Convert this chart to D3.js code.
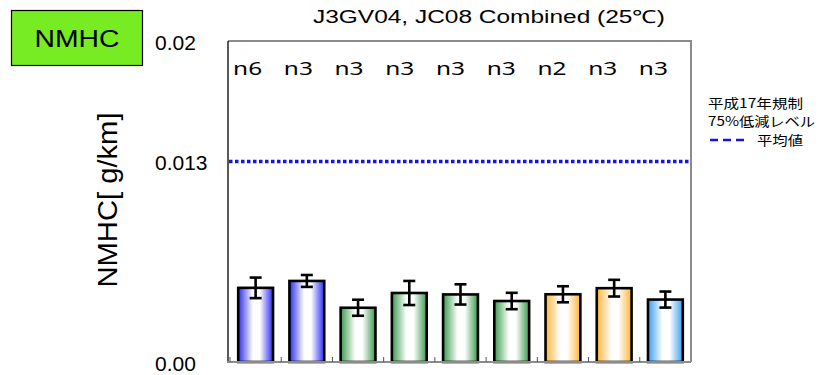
<!DOCTYPE html>
<html>
<head>
<meta charset="utf-8">
<script src="https://cdn.jsdelivr.net/npm/d3@7"></script>
<style>
  body { margin: 0; background: #fff; }
  svg { display: block; }
</style>
</head>
<body>
<svg width="822" height="375"></svg>
<script>
// data
var categories = ["c1", "c2", "c3", "c4", "c5", "c6", "c7", "c8", "c9"];
var nLabels = ["n6", "n3", "n3", "n3", "n3", "n3", "n2", "n3", "n3"];
var means = [0.00462, 0.00505, 0.00338, 0.00430, 0.00421, 0.00380, 0.00422, 0.00460, 0.00389];
var errs = [0.00064, 0.00037, 0.00050, 0.00075, 0.00063, 0.00051, 0.00050, 0.00052, 0.00050];
var groups = ["blue", "blue", "green", "green", "green", "green", "orange", "orange", "sky"];
var limit = 0.0125;
var yTicks = [0, 0.0125, 0.02];
var yTickLabels = ["0.00", "0.013", "0.02"];

var colors = { blue: "#2c2cf5", green: "#3b9a4c", orange: "#ffb437", sky: "#3a9ef0" };

var svg = d3.select("svg");
var pLeft = 228, pRight = 691, pTop = 41, pBottom = 362;

var x = d3.scaleBand().domain(categories).range([230, pRight]).paddingInner(0.32).paddingOuter(0.16);
var y = d3.scaleLinear().domain([0, 0.02]).range([pBottom, pTop]);

// gradients
var defs = svg.append("defs");
Object.keys(colors).forEach(function(k) {
  var gr = defs.append("linearGradient").attr("id", "g_" + k)
    .attr("x1", "0%").attr("x2", "100%").attr("y1", "0%").attr("y2", "0%");
  gr.append("stop").attr("offset", "0%").attr("stop-color", colors[k]);
  gr.append("stop").attr("offset", "42%").attr("stop-color", "#fff");
  gr.append("stop").attr("offset", "62%").attr("stop-color", "#fff");
  gr.append("stop").attr("offset", "100%").attr("stop-color", colors[k]);
});

// NMHC badge
svg.append("rect").attr("x", 11.5).attr("y", 10.5).attr("width", 131).attr("height", 55)
  .attr("fill", "#77ec22").attr("stroke", "#000").attr("stroke-width", 1.2);
svg.append("text").attr("x", 77).attr("y", 47).attr("text-anchor", "middle")
  .attr("font-family", "Liberation Sans, Arial, sans-serif").attr("font-size", 24)
  .attr("textLength", 85).attr("lengthAdjust", "spacingAndGlyphs")
  .text("NMHC");

// title
svg.append("text").attr("x", 489).attr("y", 23).attr("text-anchor", "middle")
  .attr("font-family", "Liberation Sans, Arial, sans-serif").attr("font-size", 18)
  .attr("textLength", 352).attr("lengthAdjust", "spacingAndGlyphs")
  .text("J3GV04, JC08 Combined (25℃)");

// frame: top and right in grey
svg.append("path").attr("d", "M" + pLeft + "," + pTop + "H" + pRight + "V" + pBottom)
  .attr("fill", "none").attr("stroke", "#8c8c8c").attr("stroke-width", 2);

// y tick labels
svg.selectAll(".ylab").data(yTicks).enter().append("text")
  .attr("x", 155).attr("y", function(d) { return y(d) + 9; })
  .attr("font-family", "Liberation Sans, Arial, sans-serif").attr("font-size", 21)
  .text(function(d, i) { return yTickLabels[i]; });

// y title
svg.append("text").attr("transform", "translate(117,200) rotate(-90)")
  .attr("text-anchor", "middle")
  .attr("font-family", "Liberation Sans, Arial, sans-serif").attr("font-size", 27)
  .attr("textLength", 175).attr("lengthAdjust", "spacingAndGlyphs")
  .text("NMHC[ g/km]");

// limit line
svg.append("line").attr("x1", pLeft + 1).attr("x2", pRight - 2)
  .attr("y1", y(limit)).attr("y2", y(limit))
  .attr("stroke", "#1414e6").attr("stroke-width", 3.5).attr("stroke-dasharray", "3.5,2.5");

// bars
svg.selectAll(".bar").data(means).enter().append("rect")
  .attr("x", function(d, i) { return x(categories[i]); })
  .attr("y", function(d) { return y(d); })
  .attr("width", x.bandwidth())
  .attr("height", function(d) { return y(0) - y(d); })
  .attr("fill", function(d, i) { return "url(#g_" + groups[i] + ")"; })
  .attr("stroke", "#000").attr("stroke-width", 2.6);

// error bars
var eb = svg.selectAll(".eb").data(means).enter().append("g")
  .attr("stroke", "#000").attr("stroke-width", 2.6);
eb.append("line")
  .attr("x1", function(d, i) { return x(categories[i]) + x.bandwidth() / 2; })
  .attr("x2", function(d, i) { return x(categories[i]) + x.bandwidth() / 2; })
  .attr("y1", function(d, i) { return y(d + errs[i]); })
  .attr("y2", function(d, i) { return y(d - errs[i]); });
[1, -1].forEach(function(s) {
  eb.append("line")
    .attr("x1", function(d, i) { return x(categories[i]) + x.bandwidth() / 2 - 6; })
    .attr("x2", function(d, i) { return x(categories[i]) + x.bandwidth() / 2 + 6; })
    .attr("y1", function(d, i) { return y(d + s * errs[i]); })
    .attr("y2", function(d, i) { return y(d + s * errs[i]); });
});

// n labels
svg.selectAll(".nlab").data(nLabels).enter().append("text")
  .attr("x", function(d, i) { return x(categories[i]) + x.bandwidth() / 2 - 8 - i * 0.5; })
  .attr("y", 75).attr("text-anchor", "middle")
  .attr("font-family", "Noto Sans, Open Sans, sans-serif").attr("font-size", 18)
  .attr("textLength", 29).attr("lengthAdjust", "spacingAndGlyphs")
  .text(function(d) { return d; });

// left axis
svg.append("line").attr("x1", pLeft).attr("x2", pLeft).attr("y1", pTop).attr("y2", pBottom)
  .attr("stroke", "#000").attr("stroke-width", 1.3);

// bottom axis with inward ticks at band edges
var bounds = categories.map(function(c) { return x(c) - x.step() * x.paddingInner() / 2; });
svg.append("line").attr("x1", pLeft - 1).attr("x2", pRight).attr("y1", pBottom).attr("y2", pBottom)
  .attr("stroke", "#8c8c8c").attr("stroke-width", 2);
svg.selectAll(".xt").data(bounds).enter().append("line")
  .attr("x1", function(d) { return d; }).attr("x2", function(d) { return d; })
  .attr("y1", pBottom).attr("y2", pBottom - 5)
  .attr("stroke", "#555").attr("stroke-width", 1);

// legend
var lg = svg.append("g").attr("font-family", "Noto Sans CJK JP, sans-serif").attr("font-size", 13);
lg.append("text").attr("x", 708).attr("y", 108).attr("textLength", 95).attr("lengthAdjust", "spacingAndGlyphs").text("平成17年規制");
lg.append("text").attr("x", 708).attr("y", 126).attr("textLength", 107).attr("lengthAdjust", "spacingAndGlyphs").text("75%低減レベル");
lg.append("line").attr("x1", 710).attr("x2", 748).attr("y1", 140).attr("y2", 140)
  .attr("stroke", "#1414e6").attr("stroke-width", 2.5).attr("stroke-dasharray", "8,5");
lg.append("text").attr("x", 757).attr("y", 145).attr("textLength", 46).attr("lengthAdjust", "spacingAndGlyphs").text("平均値");
</script>
</body>
</html>
